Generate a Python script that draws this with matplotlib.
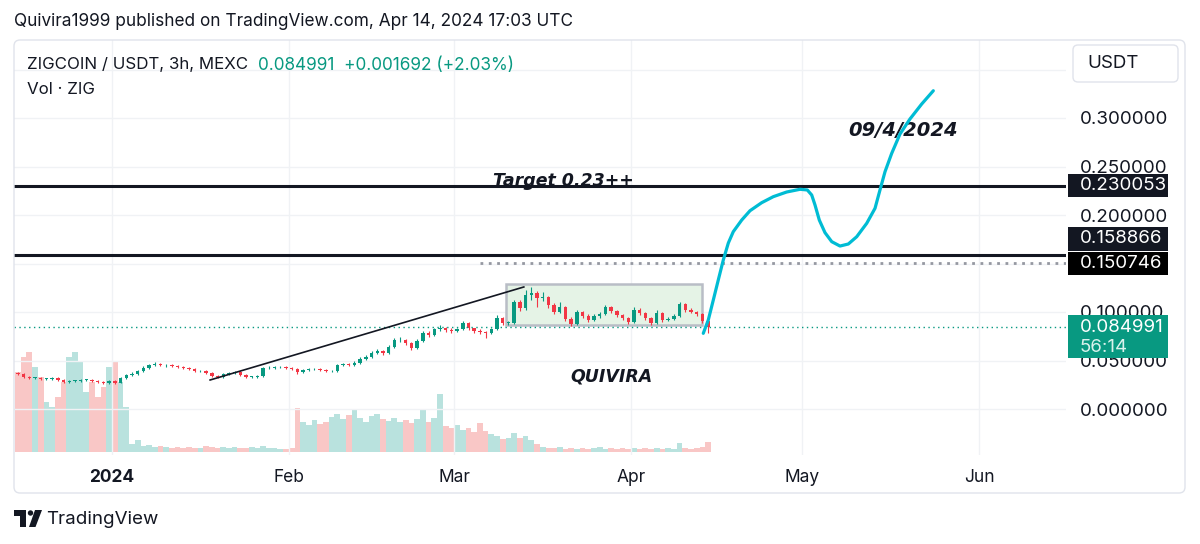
import matplotlib
matplotlib.use('Agg')
import matplotlib.pyplot as plt
import matplotlib.dates as mdates
import matplotlib.transforms as mtrans
from matplotlib.patches import Rectangle, FancyBboxPatch, Circle, Polygon
import numpy as np
import pandas as pd

plt.rcParams['font.family'] = ['Inter', 'DejaVu Sans']

# === data (one candle per day) ===
start_day = '2023-12-15'
first_open = 0.037
closes = [
    0.036, 0.033, 0.032, 0.032, 0.031, 0.031, 0.032, 0.030, 0.028, 0.029,
    0.029, 0.030, 0.030, 0.029, 0.028, 0.027, 0.029, 0.027, 0.032, 0.035,
    0.036, 0.039, 0.042, 0.045, 0.046, 0.045, 0.045, 0.044, 0.043, 0.042,
    0.041, 0.039, 0.039, 0.037, 0.034, 0.033, 0.036, 0.037, 0.038, 0.035,
    0.033, 0.033, 0.034, 0.042, 0.042, 0.043, 0.043, 0.042, 0.041, 0.038,
    0.040, 0.041, 0.041, 0.040, 0.039, 0.039, 0.045, 0.046, 0.045, 0.047,
    0.052, 0.054, 0.058, 0.060, 0.058, 0.064, 0.071, 0.071, 0.068, 0.063,
    0.070, 0.078, 0.076, 0.082, 0.084, 0.081, 0.080, 0.082, 0.089, 0.083,
    0.080, 0.079, 0.078, 0.082, 0.094, 0.089, 0.089, 0.110, 0.104, 0.118,
    0.120, 0.114, 0.115, 0.107, 0.100, 0.105, 0.093, 0.088, 0.100, 0.096,
    0.092, 0.096, 0.098, 0.105, 0.101, 0.097, 0.094, 0.090, 0.102, 0.099,
    0.094, 0.089, 0.099, 0.092, 0.093, 0.096, 0.108, 0.102, 0.100, 0.098,
    0.091, 0.085]
highs = [
    0.038, 0.037, 0.034, 0.033, 0.033, 0.032, 0.033, 0.033, 0.031, 0.030,
    0.030, 0.031, 0.031, 0.031, 0.030, 0.029, 0.030, 0.030, 0.033, 0.036,
    0.038, 0.040, 0.044, 0.046, 0.048, 0.047, 0.046, 0.046, 0.045, 0.044,
    0.043, 0.042, 0.040, 0.040, 0.038, 0.035, 0.037, 0.038, 0.039, 0.039,
    0.036, 0.034, 0.035, 0.043, 0.044, 0.044, 0.044, 0.044, 0.043, 0.042,
    0.041, 0.042, 0.042, 0.042, 0.041, 0.040, 0.046, 0.047, 0.047, 0.049,
    0.054, 0.056, 0.060, 0.062, 0.061, 0.066, 0.073, 0.074, 0.072, 0.069,
    0.072, 0.080, 0.080, 0.084, 0.087, 0.085, 0.083, 0.084, 0.091, 0.090,
    0.084, 0.082, 0.080, 0.084, 0.097, 0.095, 0.091, 0.112, 0.112, 0.123,
    0.126, 0.122, 0.121, 0.116, 0.109, 0.110, 0.106, 0.095, 0.102, 0.101,
    0.098, 0.098, 0.100, 0.107, 0.106, 0.102, 0.098, 0.095, 0.105, 0.104,
    0.100, 0.095, 0.102, 0.100, 0.095, 0.098, 0.110, 0.109, 0.104, 0.101,
    0.099, 0.092]
lows = [
    0.035, 0.032, 0.031, 0.031, 0.030, 0.030, 0.030, 0.029, 0.027, 0.027,
    0.028, 0.028, 0.029, 0.028, 0.027, 0.026, 0.026, 0.026, 0.027, 0.031,
    0.034, 0.035, 0.038, 0.041, 0.044, 0.044, 0.043, 0.043, 0.042, 0.041,
    0.040, 0.038, 0.038, 0.036, 0.033, 0.032, 0.032, 0.035, 0.036, 0.034,
    0.032, 0.032, 0.032, 0.033, 0.041, 0.041, 0.042, 0.041, 0.040, 0.036,
    0.037, 0.039, 0.040, 0.039, 0.038, 0.038, 0.038, 0.044, 0.044, 0.044,
    0.046, 0.051, 0.053, 0.057, 0.056, 0.057, 0.063, 0.069, 0.066, 0.061,
    0.062, 0.069, 0.074, 0.075, 0.080, 0.079, 0.078, 0.079, 0.081, 0.081,
    0.078, 0.077, 0.073, 0.077, 0.081, 0.087, 0.087, 0.088, 0.101, 0.102,
    0.112, 0.105, 0.111, 0.104, 0.098, 0.099, 0.091, 0.086, 0.087, 0.094,
    0.090, 0.091, 0.094, 0.097, 0.099, 0.095, 0.092, 0.088, 0.089, 0.097,
    0.092, 0.087, 0.088, 0.090, 0.091, 0.092, 0.095, 0.100, 0.099, 0.096,
    0.089, 0.078]
volumes = [  # millions ZIG
    80, 95, 100, 85, 75, 50, 45, 55, 70, 95,
    100, 90, 60, 70, 55, 65, 85, 90, 70, 45,
    8, 12, 6, 7, 5, 6, 5, 4, 5, 4,
    5, 4, 4, 6, 5, 4, 5, 4, 5, 4,
    4, 5, 4, 6, 4, 4, 3, 3, 4, 44,
    30, 27, 32, 28, 30, 35, 38, 33, 37, 42,
    34, 30, 36, 38, 33, 31, 34, 30, 32, 29,
    33, 43, 30, 34, 58, 26, 24, 27, 22, 24,
    20, 29, 21, 18, 16, 13, 14, 19, 14, 16,
    12, 8, 5, 4, 4, 5, 3, 4, 3, 4,
    3, 4, 5, 3, 4, 3, 4, 3, 4, 3,
    4, 3, 4, 3, 4, 3, 9, 4, 3, 4,
    5, 10]

last_price = 0.084991
target_level = 0.230053
support_level = 0.158866
dotted_level = 0.150746
y_ticks = [0.0, 0.05, 0.10, 0.15, 0.20, 0.25, 0.30]
month_ticks = ['2024-01-01', '2024-02-01', '2024-03-01', '2024-04-01', '2024-05-01', '2024-06-01']
month_labels = ['2024', 'Feb', 'Mar', 'Apr', 'May', 'Jun']

# drawing overlays (days after 2024-01-01, price)
trend_days = [17.2, 72.2]
trend_prices = [0.0299, 0.1258]
range_days = [69.1, 103.4]
range_prices = [0.0866, 0.1290]
dotted_from_day = 64.5
curve_days = [103.66, 104.54, 105.42, 106.29, 107.17, 108.05, 108.92, 110.40, 111.85,
              113.90, 115.94, 118.28, 120.62, 121.90, 122.67, 123.25, 124.00, 125.00,
              126.18, 127.63, 129.09, 130.56, 132.31, 133.77, 134.64, 135.52, 136.69,
              138.15, 139.90, 141.95, 143.99]
curve_prices = [0.0780, 0.0918, 0.1124, 0.1330, 0.1536, 0.1711, 0.1828, 0.1948, 0.2044,
                0.2127, 0.2189, 0.2237, 0.2265, 0.2258, 0.2206, 0.2103, 0.1948, 0.1818,
                0.1725, 0.1680, 0.1701, 0.1776, 0.1914, 0.2069, 0.2258, 0.2446, 0.2635,
                0.2835, 0.2990, 0.3144, 0.3281]

UP, DOWN, INK, GRID = '#089981', '#f23645', '#131722', '#f0f2f5'
W, H = 1200, 544

def fx(px):
    return px / W

def fy(py):
    return 1 - py / H

fig = plt.figure(figsize=(12, 5.44), dpi=100)
fig.patch.set_facecolor('white')
pix = mtrans.IdentityTransform()

# chart container
fig.add_artist(FancyBboxPatch((14, H - 493), 1171, 453, boxstyle='round,pad=0,rounding_size=6',
                              transform=pix, facecolor='none', edgecolor='#e0e3eb', lw=1))

ax_l, ax_r, ax_t, ax_b = 14, 1066, 40, 455
pos = [fx(ax_l), fy(ax_b), fx(ax_r - ax_l), (ax_b - ax_t) / H]
axv = fig.add_axes(pos)
ax = fig.add_axes(pos, sharex=axv)
ax.patch.set_visible(False)
axv.patch.set_visible(False)

jan1 = mdates.date2num(pd.Timestamp('2024-01-01'))
px_day = 5.704
x0 = jan1 - (112 - ax_l) / px_day
x1 = jan1 + (ax_r - 112) / px_day

dates = mdates.date2num(pd.date_range(start_day, periods=len(closes), freq='D')) + 0.5
opens = np.array([first_open] + closes[:-1])
closes_a = np.array(closes)
up = closes_a >= opens
colors = np.where(up, UP, DOWN)

# volume pane
vcol = np.where(up, '#26a69a', '#ef5350')
axv.bar(dates, volumes, width=1.0, color=vcol, alpha=0.32, linewidth=0)
axv.set_ylim(-3, ax_b - ax_t - 3)
axv.axis('off')

# grid
for t in month_ticks:
    ax.axvline(mdates.date2num(pd.Timestamp(t)), color=GRID, lw=1, zorder=0)
for v in y_ticks + [0.35]:
    ax.axhline(v, color=GRID, lw=1, zorder=0)

# range box
ax.add_patch(Rectangle((jan1 + range_days[0], range_prices[0]), range_days[1] - range_days[0],
                       range_prices[1] - range_prices[0], facecolor='#e5f3e6',
                       edgecolor='#b9bdc6', lw=1.8, zorder=1))

# candles
ax.vlines(dates, lows, highs, colors=colors, lw=0.8, zorder=2)
body_lo = np.minimum(opens, closes_a)
body_h = np.maximum(np.abs(closes_a - opens), 0.0006)
ax.bar(dates, body_h, bottom=body_lo, width=0.6, color=colors, linewidth=0, zorder=2)

# levels
ax.axhline(target_level, color=INK, lw=2.2, zorder=4)
ax.axhline(support_level, color=INK, lw=2.2, zorder=4)
ax.hlines(dotted_level, jan1 + dotted_from_day, x1, colors='#9598a1', lw=2.0,
          linestyles=(0, (1, 2)), zorder=4)
ax.axhline(last_price, color=UP, lw=1.0, ls=(0, (1, 2.5)), zorder=3)

ax.plot(jan1 + np.array(trend_days), trend_prices, color=INK, lw=1.2, zorder=5)
ax.plot(jan1 + np.array(curve_days), curve_prices, color='#00bcd4', lw=2.3,
        solid_capstyle='round', solid_joinstyle='round', zorder=6)

bi = dict(family='DejaVu Sans', weight='bold', style='italic', color=INK)
ax.text(jan1 + 66.8, 0.2355, 'Target 0.23++', fontsize=12.5, va='center', zorder=3, **bi)
ax.text(jan1 + 129.0, 0.2876, '09/4/2024', fontsize=14, va='center', zorder=5, **bi)
ax.text(jan1 + 80.3, 0.0330, 'QUIVIRA', fontsize=12.5, va='center', zorder=5, **bi)

ax.set_xlim(x0, x1)
ax.set_ylim((409 - ax_b) / 970, (409 - ax_t) / 970)
ax.set_autoscale_on(False)

ax.set_xticks([mdates.date2num(pd.Timestamp(t)) for t in month_ticks])
ax.set_xticklabels(month_labels)
ax.get_xticklabels()[0].set_fontweight('bold')
ax.yaxis.tick_right()
ax.set_yticks(y_ticks)
ax.set_yticklabels([f'{v:.6f}' for v in y_ticks])
ax.tick_params(axis='both', length=0, colors=INK)
ax.tick_params(axis='x', pad=10, labelsize=12.5)
ax.tick_params(axis='y', pad=10, labelsize=13.5)
for s in ax.spines.values():
    s.set_visible(False)

# price scale labels
blend = mtrans.blended_transform_factory(fig.transFigure, ax.transData)

def scale_box(center, height_px, color, lines):
    h = height_px / 970
    ax.add_patch(Rectangle((fx(1068), center - h / 2), fx(100), h, transform=blend,
                           facecolor=color, edgecolor='none', clip_on=False, zorder=10))
    for price_y, txt, col in lines:
        ax.text(fx(1080), price_y, txt, transform=blend, color=col, fontsize=13.5,
                va='center', ha='left', clip_on=False, zorder=11)

scale_box(target_level, 23, INK, [(target_level, f'{target_level:.6f}', 'white')])
scale_box(0.1753, 24, INK, [(0.1753, f'{support_level:.6f}', 'white')])
scale_box(0.1500, 23, '#000000', [(0.1500, f'{dotted_level:.6f}', 'white')])
scale_box(0.0747, 43, UP, [(0.0845, f'{last_price:.6f}', 'white'), (0.0639, '56:14', '#d9f2ec')])

# USDT box
fig.add_artist(FancyBboxPatch((1073, H - 82), 105, 37, boxstyle='round,pad=0,rounding_size=5',
                              transform=pix, facecolor='white', edgecolor='#e0e3eb', lw=1))
fig.text(fx(1087), fy(64), 'USDT', fontsize=13.5, color=INK, va='center')

# header texts
fig.text(fx(14), fy(22), 'Quivira1999 published on TradingView.com, Apr 14, 2024 17:03 UTC',
         fontsize=12.4, color=INK, va='center')
fig.text(fx(27), fy(65), 'ZIGCOIN / USDT, 3h, MEXC', fontsize=12.2, color=INK, va='center')
fig.text(fx(258), fy(65), '0.084991  +0.001692 (+2.03%)', fontsize=12.4, color=UP, va='center')
fig.text(fx(27), fy(89), 'Vol · ZIG', fontsize=12.2, color=INK, va='center')

# TradingView logo
fig.add_artist(Rectangle((14, H - 516), 12, 6, transform=pix, facecolor=INK, lw=0))
fig.add_artist(Rectangle((20, H - 527), 6, 17, transform=pix, facecolor=INK, lw=0))
fig.add_artist(Circle((30.5, H - 513), 2.7, transform=pix, facecolor=INK, lw=0))
fig.add_artist(Polygon([(29, H - 527), (35, H - 510), (42, H - 510), (35.5, H - 527)],
                       closed=True, transform=pix, facecolor=INK, lw=0))
fig.text(fx(46), fy(519), 'TradingView', fontsize=13.5, color=INK, va='center')

fig.savefig('out.png', dpi=100, facecolor='white')
